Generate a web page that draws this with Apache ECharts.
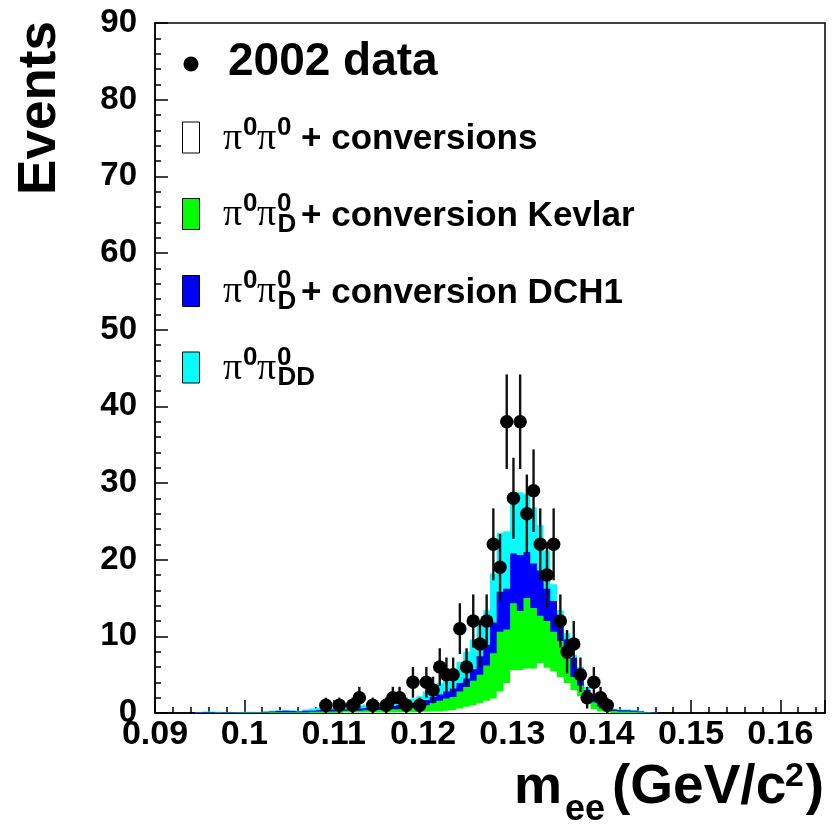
<!DOCTYPE html>
<html><head><meta charset="utf-8">
<script src="https://cdn.jsdelivr.net/npm/echarts@6/dist/echarts.min.js"></script>
<style>html,body{margin:0;padding:0;background:#fff}#chart{width:834px;height:827px}</style>
</head><body><div id="chart"></div>
<script>
// ---- axes ----
const xMin = 0.09, xMax = 0.165, xMajor = 0.01, xMinor = 0.002;
const yMin = 0, yMax = 90, yMajor = 10;
const binWidth = 0.00075;
const xTickLabels = ['0.09','0.1','0.11','0.12','0.13','0.14','0.15','0.16'];
const yTickLabels = ['0','10','20','30','40','50','60','70','80','90'];

// ---- 2002 data (counts per bin, first bin index = dataFirstBin) ----
const dataFirstBin = 25;
const dataCounts = [1,0,1,0,1,2,0,1,0,1,2,2,1,4,1,4,3,6,5,5,11,6,12,9,12,22,19,38,28,38,26,29,22,18,22,12,8,9,5,2,4,2,1];

// ---- MC stack (cumulative tops per bin, first bin index = mcFirstBin) ----
const mcFirstBin = 6;
// pi0 pi0 + conversions (white, bottom)
const topConv = [0,0,0,0,0,0,0,0,0,0,0,0,0,0,0,0,0,0,0,0,0,0,
  0.05,0.05,0.05,0.05,0.05,0.05,0.05,0.05,0.1,0.1,0.1,0.1,0.15,0.2,0.2,0.3,0.4,0.6,0.8,1.0,1.3,1.6,1.9,2.8,3.9,5.6,5.6,5.8,5.8,6.5,5.9,5.4,4.7,3.9,3.0,2.2,1.3,0.5,0.2,0.1,
  0,0,0,0,0,0,0];
// + pi0 pi0_D + conversion Kevlar (green)
const topKevlar = [0,0,0,0.05,0,0,0.05,0.05,0.05,0.05,0.05,0.1,0.1,0.1,0.1,0.1,0.1,0.15,0.2,0.2,0.2,0.25,
  0.3,0.3,0.3,0.35,0.4,0.4,0.45,0.5,0.5,0.55,0.65,0.8,1.0,1.3,1.6,1.9,2.1,2.8,3.4,4.2,5.0,6.2,7.8,10.6,10.9,14.3,13.3,15.0,13.7,12.7,12.0,10.6,9.4,7.1,4.7,3.6,2.1,1.4,0.8,0.4,
  0.25,0.2,0.2,0.15,0.1,0.05,0];
// + pi0 pi0_D + conversion DCH1 (blue)
const topDCH1 = [0.05,0.1,0.1,0.1,0.05,0.05,0.1,0.1,0.1,0.1,0.15,0.2,0.25,0.3,0.25,0.2,0.3,0.3,0.4,0.4,0.45,0.5,
  0.5,0.55,0.6,0.65,0.7,0.8,0.85,0.9,1.0,1.1,1.3,1.5,1.7,2.1,2.4,2.8,3.2,3.9,4.5,5.7,7.4,8.9,11.8,15.8,16.2,20.8,20.6,21.0,19.5,18.6,16.2,14.6,11.8,9.6,7.2,5.2,3.0,1.9,1.2,0.8,
  0.45,0.35,0.35,0.3,0.2,0.1,0.05];
// + pi0 pi0_DD (cyan, top)
const topDD = [0.1,0.2,0.2,0.15,0.1,0.1,0.1,0.15,0.15,0.1,0.2,0.3,0.35,0.4,0.35,0.3,0.45,0.6,0.7,0.6,0.7,0.8,
  0.9,1.0,1.0,1.1,1.2,1.3,1.35,1.45,1.55,1.7,1.9,2.2,2.8,3.2,3.9,4.6,5.5,6.7,8.0,9.6,11.4,13.4,18.2,23.5,23.7,28.5,28.8,28.6,26.8,24.5,21.2,16.8,13.4,10.4,7.6,6.0,3.4,2.1,1.4,1.0,
  0.55,0.45,0.45,0.4,0.3,0.1,0.05];

const FONT = '"Liberation Sans", Arial, Helvetica, sans-serif';
const SERIF = '"Liberation Serif", "Times New Roman", serif';

function edge(i) { return xMin + i * binWidth; }

const stackLayers = [
  { tops: topDD, color: '#00ffff' },
  { tops: topDCH1, color: '#0000ff' },
  { tops: topKevlar, color: '#00ff00' },
  { tops: topConv, color: '#ffffff' }
];

const dataPoints = [];
dataCounts.forEach((n, j) => {
  if (n > 0) {
    const b = dataFirstBin + j;
    dataPoints.push([edge(b) + binWidth / 2, n, Math.sqrt(n)]);
  }
});

const chart = echarts.init(document.getElementById('chart'), null, { renderer: 'canvas' });

function txt(text, x, y, size, opts) {
  opts = opts || {};
  return {
    type: 'text', x: x, y: y, rotation: opts.rotation || 0, z: 100,
    style: {
      text: text, fill: '#000',
      fontSize: size, fontWeight: opts.weight || 'bold', fontFamily: opts.family || FONT,
      textAlign: opts.align || 'left', align: opts.align || 'left',
      textVerticalAlign: 'middle', verticalAlign: 'middle'
    }
  };
}

const rowBase = [151.5, 228, 305, 381.5];
const rowColors = ['#ffffff', '#00ff00', '#0000ff', '#00ffff'];
const rowTexts = ['+ conversions', '+ conversion Kevlar', '+ conversion DCH1', ''];
const rowSubs = ['', 'D', 'D', 'DD'];

const graphics = [];
// y title
graphics.push(txt('Events', 40, 108, 53, { rotation: Math.PI / 2, align: 'center' }));
// x title
graphics.push(txt('m', 514, 788, 54));
graphics.push(txt('ee', 565, 810.5, 36));
graphics.push(txt('(GeV/c', 612, 788, 55));
graphics.push(txt('2', 785, 777, 34));
graphics.push(txt(')', 824, 788, 55, { align: 'right' }));
// legend: data
graphics.push({ type: 'circle', z: 100, shape: { cx: 191, cy: 64, r: 7.5 }, style: { fill: '#000' } });
graphics.push(txt('2002 data', 228, 62, 46));
rowBase.forEach((B, k) => {
  graphics.push({ type: 'rect', z: 100, shape: { x: 182.5, y: B - 29.5, width: 17, height: 31 },
    style: { fill: rowColors[k], stroke: '#000', lineWidth: 1 } });
  graphics.push(txt('\u03c0', 223, B - 12.8, 38, { weight: 'normal', family: SERIF }));
  graphics.push(txt('0', 243, B - 24, 26));
  graphics.push(txt('\u03c0', 257, B - 12.8, 38, { weight: 'normal', family: SERIF }));
  graphics.push(txt('0', 277, B - 24, 26));
  if (rowSubs[k]) graphics.push(txt(rowSubs[k], 277.5, B - 3.5, 26));
  if (rowTexts[k]) graphics.push(txt(rowTexts[k], 301, B - 12.1, 35));
});

const option = {
  backgroundColor: '#ffffff',
  animation: false,
  grid: { left: 155, right: 9, top: 23, bottom: 114, show: true, borderColor: '#000', borderWidth: 1.5, backgroundColor: 'transparent' },
  xAxis: [
    {
      type: 'value', min: xMin, max: xMax, interval: xMajor, position: 'bottom',
      axisLine: { show: true, onZero: false, lineStyle: { color: '#000', width: 1.5 } },
      axisTick: { show: true, inside: true, length: 13, lineStyle: { color: '#000', width: 1.5 } },
      axisLabel: {
        show: true, margin: 5, color: '#000', fontFamily: FONT, fontWeight: 'bold', fontSize: 34,
        showMinLabel: true, showMaxLabel: true, hideOverlap: false,
        formatter: function (v) {
          const k = Math.round((v - xMin) / xMajor);
          if (Math.abs(v - (xMin + k * xMajor)) > 1e-9) return '';
          return xTickLabels[k] || '';
        }
      },
      splitLine: { show: false }
    },
    {
      type: 'value', min: xMin, max: xMax, interval: xMinor, position: 'bottom',
      axisLine: { show: false, onZero: false },
      axisTick: { show: true, inside: true, length: 6, lineStyle: { color: '#000', width: 1.5 } },
      axisLabel: { show: false },
      splitLine: { show: false }
    }
  ],
  yAxis: [{
    type: 'value', min: yMin, max: yMax, interval: yMajor,
    axisLine: { show: true, onZero: false, lineStyle: { color: '#000', width: 1.5 } },
    axisTick: { show: true, inside: true, length: 13, lineStyle: { color: '#000', width: 1.5 } },
    minorTick: { show: true, splitNumber: 5, length: 6, lineStyle: { color: '#000', width: 1.5 } },
    axisLabel: {
      show: true, margin: 18, color: '#000', fontFamily: FONT, fontWeight: 'bold', fontSize: 33,
      showMinLabel: true, showMaxLabel: true,
      formatter: function (v) { return yTickLabels[Math.round(v / yMajor)] || ''; }
    },
    splitLine: { show: false }
  }],
  graphic: graphics,
  series: [
    {
      type: 'custom', name: 'MC stack', xAxisIndex: 0, yAxisIndex: 0, clip: true, silent: true, z: 2,
      data: stackLayers.map((l, k) => [(xMin + xMax) / 2, 1, k]),
      renderItem: function (params, api) {
        const l = stackLayers[params.dataIndex];
        const pts = [api.coord([edge(mcFirstBin), 0])];
        l.tops.forEach((v, j) => {
          const b = mcFirstBin + j;
          pts.push(api.coord([edge(b), v]));
          pts.push(api.coord([edge(b + 1), v]));
        });
        pts.push(api.coord([edge(mcFirstBin + l.tops.length), 0]));
        return { type: 'polygon', shape: { points: pts }, style: { fill: l.color, stroke: null } };
      }
    },
    {
      type: 'custom', name: 'errors', xAxisIndex: 0, yAxisIndex: 0, clip: true, silent: true, z: 3,
      data: dataPoints,
      renderItem: function (params, api) {
        const x = api.value(0), n = api.value(1), e = api.value(2);
        const p0 = api.coord([x, n - e]);
        const p1 = api.coord([x, n + e]);
        return { type: 'line', shape: { x1: p0[0], y1: p0[1], x2: p1[0], y2: p1[1] },
          style: { stroke: '#111', lineWidth: 2.4 } };
      }
    },
    {
      type: 'scatter', name: '2002 data', xAxisIndex: 0, yAxisIndex: 0, z: 4, silent: true,
      symbol: 'circle', symbolSize: 13.5,
      itemStyle: { color: '#000', opacity: 1 },
      emphasis: { disabled: true },
      data: dataPoints.map(p => [p[0], p[1]])
    }
  ]
};
chart.setOption(option);
</script>
</body></html>
